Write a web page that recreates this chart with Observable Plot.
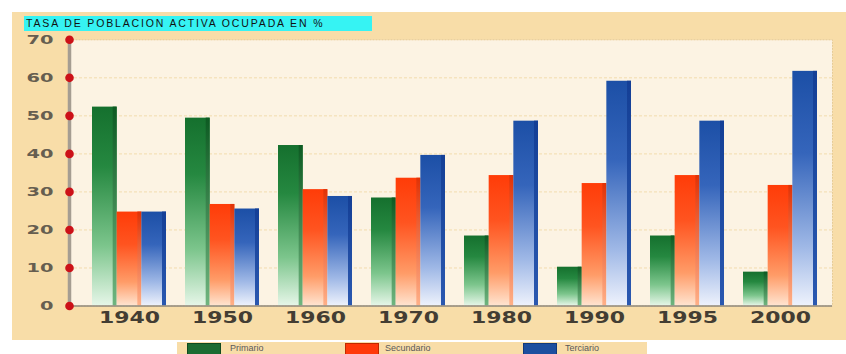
<!DOCTYPE html>
<html><head><meta charset="utf-8">
<script src="https://cdn.jsdelivr.net/npm/d3@7"></script>
<script src="https://cdn.jsdelivr.net/npm/@observablehq/plot@0.6"></script>
<style>
body{margin:0;background:#fff;width:846px;height:354px;overflow:hidden;position:relative;font-family:"Liberation Sans",Arial,sans-serif;}
#bg{position:absolute;left:12px;top:12px;width:834px;height:328px;background:#f8dda8;}
#title{position:absolute;left:24px;top:16px;width:348px;height:15px;background:#36f3f3;font-size:10.5px;line-height:15px;letter-spacing:1.85px;padding-left:2px;box-sizing:border-box;color:#111;white-space:nowrap;overflow:hidden;}
#chart{position:absolute;left:0;top:32px;}
#legend{position:absolute;left:177px;top:342px;width:470px;height:12px;background:#f8dda8;}
.sw{position:absolute;top:1px;width:34px;height:12px;box-sizing:border-box;}
.lb{position:absolute;top:1px;font-size:9px;line-height:11px;color:#5a5a5a;}
</style>
</head><body>
<div id="bg"></div>
<div id="title">TASA DE POBLACION ACTIVA OCUPADA EN %</div>
<div id="chart"></div>
<div id="legend"></div>
<script>
const years = ["1940","1950","1960","1970","1980","1990","1995","2000"];
const sectors = ["Primario","Secundario","Terciario"];
const primario   = [52.3, 49.4, 42.2, 28.4, 18.4, 10.2, 18.4, 8.9];
const secundario = [24.7, 26.7, 30.6, 33.6, 34.3, 32.2, 34.3, 31.7];
const terciario  = [24.7, 25.5, 28.8, 39.6, 48.6, 59.1, 48.6, 61.7];
const yTicks = [0, 10, 20, 30, 40, 50, 60, 70];

const series = [primario, secundario, terciario];
const table = years.flatMap((y, i) => sectors.map((s, k) => ({year: y, sector: s, value: series[k][i]})));

const W = 846, H = 310, mL = 69, mR = 14, mT = 7.3, mB = 36.5;
const pIn = 0.208, pOut = 0.187, al = 0.6;
const bw = d3.scaleBand(years, [mL, W - mR]).paddingInner(pIn).paddingOuter(pOut).align(al).bandwidth();
const third = bw / 3;

const grads = [
  {id: "g0", stops: [[0, "#15702e"], [0.3, "#258840"], [0.7, "#7cc58c"], [1, "#e6f6e8"]]},
  {id: "g1", stops: [[0, "#ff3c08"], [0.35, "#ff5420"], [0.75, "#ff9c68"], [1, "#ffe4d0"]]},
  {id: "g2", stops: [[0, "#1c4fa6"], [0.35, "#3565bb"], [0.75, "#9fb8e6"], [1, "#eef2fc"]]},
  {id: "e0", stops: [[0, "#0d5a22"], [1, "#6fb57f"]]},
  {id: "e1", stops: [[0, "#e03206"], [1, "#ffb088"]]},
  {id: "e2", stops: [[0, "#143f96"], [1, "#2a58b0"]]}
];
function defsMark() {
  const defs = d3.create("svg:defs");
  for (const g of grads) {
    const lg = defs.append("linearGradient").attr("id", g.id).attr("x1", 0).attr("y1", 0).attr("x2", 0).attr("y2", 1);
    for (const [o, c] of g.stops) lg.append("stop").attr("offset", o).attr("stop-color", c);
  }
  return defs.node();
}

const barMarks = sectors.flatMap((s, k) => [
  Plot.barY(table.filter(d => d.sector === s), {x: "year", y: "value", fill: `url(#g${k})`, insetLeft: k * third, insetRight: (2 - k) * third}),
  Plot.barY(table.filter(d => d.sector === s), {x: "year", y: "value", fill: `url(#e${k})`, insetLeft: k * third + third - 4, insetRight: (2 - k) * third})
]);

const chart = Plot.plot({
  width: W, height: H,
  marginLeft: mL, marginRight: mR, marginTop: mT, marginBottom: mB,
  style: {fontFamily: "DejaVu Sans", background: "transparent", overflow: "visible"},
  x: {type: "band", domain: years, paddingInner: pIn, paddingOuter: pOut, align: al, label: null},
  y: {domain: [0, 70], label: null},
  marks: [
    defsMark,
    Plot.frame({fill: "#fcf3e3", stroke: "#e6cb95", strokeDasharray: "2,1"}),
    Plot.ruleY(yTicks.slice(1, -1), {stroke: "#f2dcae", strokeDasharray: "3,2"}),
    ...barMarks,
    Plot.ruleY([0], {stroke: "#8f897d", strokeWidth: 1.5}),
    Plot.frame({anchor: "left", stroke: "#a59d92", strokeWidth: 3.5}),
    Plot.dot(yTicks, {y: d => d, frameAnchor: "left", r: 4.3, fill: "#cc1118"}),
    Plot.axisX({label: null, tickSize: 0, tickPadding: 6, fontSize: 16, fontWeight: "bold", color: "#433d33"}),
    Plot.axisY({label: null, ticks: yTicks, tickSize: 0, tickPadding: 16, fontSize: 13, fontWeight: "bold", color: "#665e50"})
  ]
});
document.getElementById("chart").appendChild(chart);

chart.querySelectorAll('g[aria-label="x-axis tick label"] text').forEach(t => {
  t.setAttribute("textLength", 61); t.setAttribute("lengthAdjust", "spacingAndGlyphs");
});
chart.querySelectorAll('g[aria-label="y-axis tick label"] text').forEach(t => {
  t.setAttribute("textLength", 13.5 * t.textContent.length); t.setAttribute("lengthAdjust", "spacingAndGlyphs");
});

const legendColors = ["#1b6c33", "#ff3a0a", "#1c4f9f"];
const legendBorders = ["#0f4a20", "#c02a00", "#123a7a"];
const swX = [10, 168, 346], lbX = [53, 208, 388];
const leg = document.getElementById("legend");
sectors.forEach((s, k) => {
  const sw = document.createElement("div");
  sw.className = "sw"; sw.style.left = swX[k] + "px";
  sw.style.background = legendColors[k]; sw.style.border = "1px solid " + legendBorders[k];
  leg.appendChild(sw);
  const lb = document.createElement("div");
  lb.className = "lb"; lb.style.left = lbX[k] + "px"; lb.textContent = s;
  leg.appendChild(lb);
});
</script>
</body></html>
